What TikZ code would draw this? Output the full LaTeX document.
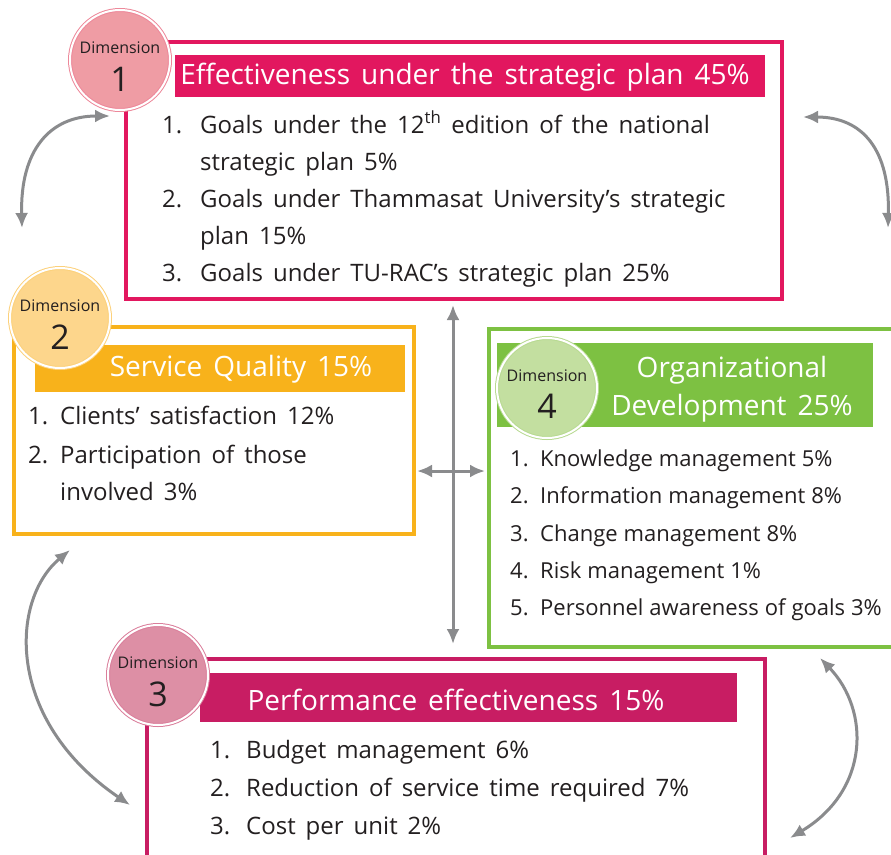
\documentclass[tikz,border=0pt]{standalone}
\usepackage{fontspec}
\setmainfont{Open Sans}
\usetikzlibrary{arrows.meta, positioning}

\definecolor{dimred}{HTML}{E2175F}
\definecolor{dimredlight}{HTML}{EF9CA4}
\definecolor{dimorange}{HTML}{F8B21B}
\definecolor{dimorangelight}{HTML}{FDD68C}
\definecolor{dimgreen}{HTML}{7DC142}
\definecolor{dimgreenlight}{HTML}{C3DFA0}
\definecolor{dimcrimson}{HTML}{C81D63}
\definecolor{dimcrimsonlight}{HTML}{DD8FA5}
\definecolor{linkgray}{HTML}{8A8B8D}
\definecolor{ink}{HTML}{231F20}

\newcommand{\titlefont}{\fontsize{28}{38}\selectfont\spaceskip 11pt\relax}
\newcommand{\itemfont}{\fontsize{24}{24}\selectfont\spaceskip 10pt\relax}
\newcommand{\smallitemfont}{\fontsize{22}{22}\selectfont\spaceskip 6pt\relax}

\begin{document}
\begin{tikzpicture}[x=1pt, y=-1pt, >={Latex[length=15pt,width=13pt]}]
\tikzstyle{frame} = [rectangle, line width=3.5pt, fill=white, anchor=north west, inner sep=0pt]
\tikzstyle{bar} = [rectangle, inner sep=0pt, anchor=north west]
\tikzstyle{dimcircle} = [circle, minimum size=100pt, inner sep=0pt, line width=1pt, double=white, double distance=2pt]
\tikzstyle{dimword} = [font=\fontsize{16}{16}\selectfont, text=ink, inner sep=0pt]
\tikzstyle{dimnum} = [font=\fontsize{34}{34}\selectfont, text=ink, inner sep=0pt]
\tikzstyle{title} = [font=\titlefont, text=white, align=center, inner sep=0pt]
\tikzstyle{item} = [anchor=base west, inner sep=0pt, font=\itemfont, text=ink]
\tikzstyle{smallitem} = [item, font=\smallitemfont]
\tikzstyle{link} = [<->, line width=3pt, draw=linkgray, fill=none]

\clip (0,0) rectangle (891,854);

%frames
\node [frame, draw=dimred, minimum width=656pt, minimum height=257pt] (box1) at (124,40) {};
\node [frame, draw=dimorange, minimum width=400pt, minimum height=207pt] (box2) at (12,325) {};
\node [frame, draw=dimgreen, minimum width=410pt, minimum height=318pt] (box4) at (487,327) {};
\node [frame, draw=dimcrimson, minimum width=618pt, minimum height=220pt] (box3) at (145,657) {};

%title bars
\node [bar, fill=dimred, minimum width=590pt, minimum height=42pt] (bar1) at (175,55) {};
\node [bar, fill=dimorange, minimum width=370pt, minimum height=47pt] (bar2) at (35,345) {};
\node [bar, fill=dimgreen, minimum width=376pt, minimum height=84pt] (bar4) at (497,343) {};
\node [bar, fill=dimcrimson, minimum width=537pt, minimum height=49pt] (bar3) at (200,673) {};

%dimension circles
\node [dimcircle, fill=dimredlight, draw=dimredlight!85!dimred] (dim1) at (120,60) {};
\node [dimword] (dim1word) at ([yshift=12pt]dim1.center) {Dimension};
\node [dimnum] (dim1num) at ([yshift=-19pt]dim1.center) {1};

\node [dimcircle, fill=dimorangelight, draw=dimorangelight!85!dimorange] (dim2) at (60,318) {};
\node [dimword] (dim2word) at ([yshift=12pt]dim2.center) {Dimension};
\node [dimnum] (dim2num) at ([yshift=-19pt]dim2.center) {2};

\node [dimcircle, fill=dimgreenlight, draw=dimgreenlight!85!dimgreen] (dim4) at (547,388) {};
\node [dimword] (dim4word) at ([yshift=12pt]dim4.center) {Dimension};
\node [dimnum] (dim4num) at ([yshift=-18pt]dim4.center) {4};

\node [dimcircle, fill=dimcrimsonlight, draw=dimcrimsonlight!85!dimcrimson] (dim3) at (158,675) {};
\node [dimword] (dim3word) at ([yshift=12pt]dim3.center) {Dimension};
\node [dimnum] (dim3num) at ([yshift=-19pt]dim3.center) {3};

%titles
\node [title] (title1) at (465,77) {Effectiveness under the strategic plan 45\%};
\node [title] (title2) at (241,369) {Service Quality 15\%};
\node [title] (title4) at (732,389) {Organizational\\Development 25\%};
\node [title] (title3) at (456,700) {Performance effectiveness 15\%};

%dimension 1 items
\node [item] (i1n) at (162,133) {1.};
\node [item] (i1a) at (200,133) {Goals under the 12\textsuperscript{th} edition of the national};
\node [item] (i1b) at (200,170) {strategic plan 5\%};
\node [item] (i2n) at (162,207) {2.};
\node [item] (i2a) at (200,207) {Goals under Thammasat University’s strategic};
\node [item] (i2b) at (200,244) {plan 15\%};
\node [item] (i3n) at (162,281) {3.};
\node [item] (i3a) at (200,281) {Goals under TU-RAC’s strategic plan 25\%};

%dimension 2 items
\node [item] (s1n) at (28,424) {1.};
\node [item] (s1a) at (60,424) {Clients’ satisfaction 12\%};
\node [item] (s2n) at (28,463) {2.};
\node [item] (s2a) at (60,463) {Participation of those};
\node [item] (s2b) at (60,500) {involved 3\%};

%dimension 4 items
\node [smallitem] (o1n) at (510,466) {1.};
\node [smallitem] (o1a) at (540,466) {Knowledge management 5\%};
\node [smallitem] (o2n) at (510,503) {2.};
\node [smallitem] (o2a) at (540,503) {Information management 8\%};
\node [smallitem] (o3n) at (510,541) {3.};
\node [smallitem] (o3a) at (540,541) {Change management 8\%};
\node [smallitem] (o4n) at (510,578) {4.};
\node [smallitem] (o4a) at (540,578) {Risk management 1\%};
\node [smallitem] (o5n) at (510,615) {5.};
\node [smallitem] (o5a) at (540,615) {Personnel awareness of goals 3\%};

%dimension 3 items
\node [item] (p1n) at (210,758) {1.};
\node [item] (p1a) at (246,758) {Budget management 6\%};
\node [item] (p2n) at (210,796) {2.};
\node [item] (p2a) at (246,796) {Reduction of service time required 7\%};
\node [item] (p3n) at (210,834) {3.};
\node [item] (p3a) at (246,834) {Cost per unit 2\%};

%links
\coordinate (a1top) at (110,116);
\coordinate (a1bot) at (22,228);
\draw [link] (a1top) .. controls (50,116) and (20,150) .. (a1bot);
\coordinate (a2top) at (803,117);
\coordinate (a2bot) at (888,228);
\draw [link] (a2top) .. controls (863,117) and (890,150) .. (a2bot);
\coordinate (a3top) at (70,550);
\coordinate (a3bot) at (130,805);
\draw [link] (a3top) .. controls (10,600) and (5,720) .. (a3bot);
\coordinate (a4top) at (820,658);
\coordinate (a4bot) at (790,838);
\draw [link] (a4top) .. controls (870,710) and (870,790) .. (a4bot);
\coordinate (vtop) at (453,305);
\coordinate (vbot) at (453,644);
\draw [link] (vtop) -- (vbot);
\coordinate (hleft) at (417,471);
\coordinate (hright) at (485,471);
\draw [link] (hleft) -- (hright);

\end{tikzpicture}
\end{document}
